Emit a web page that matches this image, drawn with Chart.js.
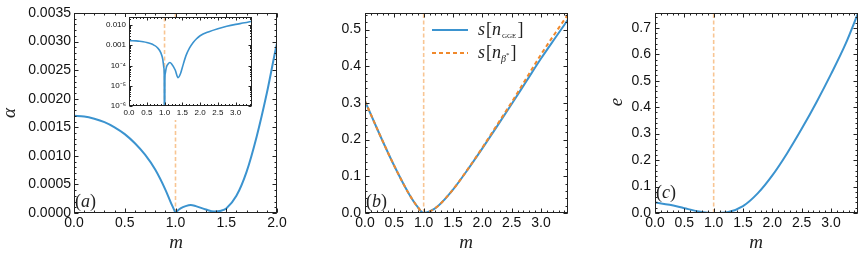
<!DOCTYPE html>
<html>
<head>
<meta charset="utf-8">
<script src="https://cdn.jsdelivr.net/npm/chart.js@4.4.1/dist/chart.umd.min.js"></script>
<style>
  html, body { margin: 0; padding: 0; background: #fff; }
  #wrap { position: relative; width: 866px; height: 256px; overflow: hidden; }
  canvas { position: absolute; }
</style>
</head>
<body>
<div id="wrap">
  <canvas id="cA" width="290" height="256" style="left:0;top:0"></canvas>
  <canvas id="cB" width="290" height="256" style="left:290px;top:0"></canvas>
  <canvas id="cC" width="286" height="256" style="left:580px;top:0"></canvas>
  <canvas id="cIn" width="154" height="104" style="left:104px;top:16px"></canvas>
</div>
<script>
// --- dados ---
// (a) alpha(m) — mesma curva no painel principal e no inset (escala log)
// em m = 1 alpha cai a ~0 (valor minusculo p/ a escala log nao descartar o ponto)
const mAlpha = [0, 0.1, 0.2, 0.3, 0.4, 0.5, 0.6, 0.7, 0.8, 0.9, 0.95, 0.98, 0.99, 1.0, 1.01, 1.02, 1.05, 1.1, 1.15, 1.2, 1.3, 1.38, 1.45, 1.5, 1.6, 1.7, 1.8, 1.9, 2.0, 2.25, 2.5, 2.75, 3.0, 3.25, 3.46];
const alphaVals = [0.00170, 0.00169, 0.00165, 0.00159, 0.00150, 0.00138, 0.00122, 0.00102, 0.00076, 0.00041, 0.00020, 0.00008, 0.00004, 1e-9, 0.00002, 0.00004, 0.00008, 0.00012, 0.00014, 0.00012, 0.00006, 0.000025, 0.00004, 0.00008, 0.00030, 0.00072, 0.00134, 0.00210, 0.00297, 0.0047, 0.0066, 0.0087, 0.0108, 0.0129, 0.0155];

// (b) entropias
const mS = [0, 0.25, 0.5, 0.75, 0.9, 1.0, 1.1, 1.25, 1.5, 1.75, 2.0, 2.25, 2.5, 2.75, 3.0, 3.25, 3.46];
const sGGE  = [0.305, 0.214, 0.128, 0.052, 0.016, 0, 0.004, 0.020, 0.064, 0.118, 0.176, 0.236, 0.297, 0.359, 0.421, 0.479, 0.527];
const sBeta = [0.305, 0.214, 0.128, 0.052, 0.016, 0, 0.004, 0.020, 0.064, 0.119, 0.178, 0.240, 0.302, 0.367, 0.432, 0.492, 0.541];

// (c) e(m)
const mE = [0, 0.25, 0.5, 0.75, 1.0, 1.25, 1.5, 1.75, 2.0, 2.25, 2.5, 2.75, 3.0, 3.25, 3.46];
const eVals = [0.040, 0.031, 0.018, 0.006, 0.0, 0.004, 0.026, 0.074, 0.142, 0.225, 0.318, 0.418, 0.525, 0.640, 0.755];

// linha tracejada vertical em m = 1
const mCrit = 1;

// ticks
const ticksXa = [0, 0.5, 1, 1.5, 2];
const ticksYa = [0, 0.0005, 0.001, 0.0015, 0.002, 0.0025, 0.003, 0.0035];
const ticksXbc = [0, 0.5, 1, 1.5, 2, 2.5, 3];
const ticksYb = [0, 0.1, 0.2, 0.3, 0.4, 0.5];
const ticksYc = [0, 0.1, 0.2, 0.3, 0.4, 0.5, 0.6, 0.7];
const ticksXin = [0, 0.5, 1, 1.5, 2, 2.5, 3];
const ticksYin = [1e-6, 1e-5, 1e-4, 1e-3, 1e-2];
const labelsYin = ['10⁻⁶', '10⁻⁵', '10⁻⁴', '0.001', '0.010'];

const BLUE = '#3b93cf';
const ORANGE = '#f0892c';
const VLINE = '#f8c593';
const SANS = '"Liberation Sans", Arial, sans-serif';
const SERIF = '"Liberation Serif", "Times New Roman", serif';

const pts = (xs, ys) => xs.map((x, i) => ({ x, y: ys[i] }));

// --- moldura estilo Mathematica, ticks para dentro nos 4 lados ---
function minorVals(scale, major, sub) {
  const out = [];
  if (scale.type === 'logarithmic') {
    for (let e = Math.floor(Math.log10(scale.min)); e <= Math.ceil(Math.log10(scale.max)); e++) {
      for (let k = 2; k <= 9; k++) {
        const v = k * Math.pow(10, e);
        if (v > scale.min && v < scale.max) out.push(v);
      }
    }
    return out;
  }
  const step = (major[1] - major[0]) / sub;
  for (let v = major[0]; v <= scale.max + 1e-12; v += step) out.push(v);
  return out;
}

const framePlugin = {
  id: 'frame',
  afterDatasetsDraw(chart, args, o) {
    const { ctx, chartArea: a, scales: { x, y } } = chart;
    const L = Math.round(a.left) + 0.5, R = Math.round(a.right) - 0.5;
    const T = Math.round(a.top) + 0.5, B = Math.round(a.bottom) - 0.5;
    ctx.save();
    ctx.strokeStyle = '#222';
    ctx.lineWidth = 1;
    const xMaj = x.ticks.map(t => t.value), yMaj = y.ticks.map(t => t.value);
    const draw = (vals, len, horiz) => {
      vals.forEach(v => {
        if (horiz) {
          const px = Math.round(x.getPixelForValue(v)) + 0.5;
          if (px < L - 1 || px > R + 1) return;
          ctx.beginPath();
          ctx.moveTo(px, B); ctx.lineTo(px, B - len);
          ctx.moveTo(px, T); ctx.lineTo(px, T + len);
          ctx.stroke();
        } else {
          const py = Math.round(y.getPixelForValue(v)) + 0.5;
          if (py < T - 1 || py > B + 1) return;
          ctx.beginPath();
          ctx.moveTo(L, py); ctx.lineTo(L + len, py);
          ctx.moveTo(R, py); ctx.lineTo(R - len, py);
          ctx.stroke();
        }
      });
    };
    draw(minorVals(x, xMaj, 5), o.minor, true);
    draw(minorVals(y, yMaj, 5), o.minor, false);
    draw(xMaj, o.major, true);
    draw(yMaj, o.major, false);
    ctx.strokeRect(L, T, R - L, B - T);
    ctx.restore();
  }
};

// texto com partes (italico, subscrito...)
function rich(ctx, x, y, parts) {
  parts.forEach(p => {
    ctx.font = p.f;
    ctx.fillText(p.t, x, y + (p.dy || 0));
    x += ctx.measureText(p.t).width + (p.sp || 0);
  });
}

function textPlugin(draw) {
  return {
    id: 'txt',
    afterDraw(chart) {
      const ctx = chart.ctx;
      ctx.save();
      ctx.fillStyle = '#222';
      ctx.textBaseline = 'alphabetic';
      draw(ctx, chart);
      ctx.restore();
    }
  };
}

function axis(type, min, max, ticksArr, fmt, size, pad, fs) {
  return {
    type, min, max,
    grid: { display: false, drawTicks: false },
    border: { display: false },
    ticks: { font: { family: SANS, size: fs }, color: '#111', padding: pad, maxRotation: 0, autoSkip: false, callback: fmt },
    afterBuildTicks: s => { s.ticks = ticksArr.map(v => ({ value: v })); },
    afterFit: s => {
      if (s.isHorizontal()) s.height = size; else s.width = size;
      s.paddingLeft = s.paddingRight = s.paddingTop = s.paddingBottom = 0;
    }
  };
}

function baseOpts(pad, scales, frame) {
  return {
    responsive: false, animation: false, devicePixelRatio: 1, events: [],
    layout: { padding: pad },
    plugins: { legend: { display: false }, tooltip: { enabled: false }, frame },
    elements: { point: { radius: 0 }, line: { cubicInterpolationMode: 'monotone' } },
    scales
  };
}

const vline = (ymin, ymax) => ({
  data: [{ x: mCrit, y: ymin }, { x: mCrit, y: ymax }],
  borderColor: VLINE, borderWidth: 1.6, borderDash: [4, 2.5], cubicInterpolationMode: 'default', tension: 0
});

const f1 = v => Number(v).toFixed(1);

// (a)
new Chart(document.getElementById('cA'), {
  type: 'line',
  data: { datasets: [
    { data: pts(mAlpha, alphaVals), borderColor: BLUE, borderWidth: 2 },
    vline(0, 0.0035)
  ] },
  options: baseOpts({ top: 13, right: 13, left: 0, bottom: 0 }, {
    x: axis('linear', 0, 2, ticksXa, f1, 43, 2, 14),
    y: axis('linear', 0, 0.0035, ticksYa, v => Number(v).toFixed(4), 74, 3, 14)
  }, { major: 4, minor: 2 }),
  plugins: [framePlugin, textPlugin(ctx => {
    ctx.font = 'italic 19px ' + SERIF;
    ctx.textAlign = 'center';
    ctx.fillText('m', 176, 248);
    ctx.save();
    ctx.translate(15, 113);
    ctx.rotate(-Math.PI / 2);
    ctx.fillText('α', 0, 0);
    ctx.restore();
    ctx.textAlign = 'left';
    rich(ctx, 75, 207, [{ t: '(', f: '18px ' + SERIF }, { t: 'a', f: 'italic 18px ' + SERIF }, { t: ')', f: '18px ' + SERIF }]);
  })]
});

// inset de (a): escala log
new Chart(document.getElementById('cIn'), {
  type: 'line',
  data: { datasets: [
    { data: pts(mAlpha, alphaVals), borderColor: BLUE, borderWidth: 1.6 },
    vline(1e-6, 0.025)
  ] },
  options: baseOpts({ top: 1, right: 6, left: 0, bottom: 0 }, {
    x: axis('linear', 0, 3.46, ticksXin, f1, 14, 2, 8),
    y: axis('logarithmic', 1e-6, 0.025, ticksYin, (v, i) => labelsYin[i], 25, 3, 8)
  }, { major: 3, minor: 1.5 }),
  plugins: [{
    id: 'bg',
    beforeDraw(chart) {
      const c = chart.ctx;
      c.save(); c.fillStyle = '#fff'; c.fillRect(0, 1, chart.width, chart.height - 1); c.restore();
    }
  }, framePlugin]
});

// (b)
new Chart(document.getElementById('cB'), {
  type: 'line',
  data: { datasets: [
    { data: pts(mS, sBeta), borderColor: ORANGE, borderWidth: 2, borderDash: [4, 3] },
    { data: pts(mS, sGGE), borderColor: BLUE, borderWidth: 2 },
    vline(0, 0.545)
  ] },
  options: baseOpts({ top: 13, right: 12, left: 0, bottom: 0 }, {
    x: axis('linear', 0, 3.46, ticksXbc, f1, 43, 2, 14),
    y: axis('linear', 0, 0.545, ticksYb, f1, 75, 4, 14)
  }, { major: 4, minor: 2 }),
  plugins: [framePlugin, textPlugin(ctx => {
    ctx.font = 'italic 19px ' + SERIF;
    ctx.textAlign = 'center';
    ctx.fillText('m', 176, 248);
    ctx.textAlign = 'left';
    rich(ctx, 76, 207, [{ t: '(', f: '18px ' + SERIF }, { t: 'b', f: 'italic 18px ' + SERIF }, { t: ')', f: '18px ' + SERIF }]);
    // legenda
    ctx.lineWidth = 2;
    ctx.strokeStyle = BLUE;
    ctx.beginPath(); ctx.moveTo(142, 30); ctx.lineTo(178, 30); ctx.stroke();
    ctx.strokeStyle = ORANGE;
    ctx.setLineDash([4, 3]);
    ctx.beginPath(); ctx.moveTo(142, 53); ctx.lineTo(178, 53); ctx.stroke();
    ctx.setLineDash([]);
    const it = 'italic 18px ' + SERIF, up = '18px ' + SERIF;
    rich(ctx, 188, 35, [{ t: 's', f: it, sp: 1 }, { t: '[', f: up }, { t: 'n', f: it, sp: 1 },
      { t: 'GGE', f: '7px ' + SERIF, dy: 3, sp: 1 }, { t: ']', f: up }]);
    rich(ctx, 188, 58, [{ t: 's', f: it, sp: 1 }, { t: '[', f: up }, { t: 'n', f: it },
      { t: 'β', f: 'italic 10px ' + SERIF, dy: 4 }, { t: '*', f: '7px ' + SERIF, dy: -1, sp: 1 }, { t: ']', f: up }]);
  })]
});

// (c)
new Chart(document.getElementById('cC'), {
  type: 'line',
  data: { datasets: [
    { data: pts(mE, eVals), borderColor: BLUE, borderWidth: 2 },
    vline(0, 0.756)
  ] },
  options: baseOpts({ top: 13, right: 8, left: 0, bottom: 0 }, {
    x: axis('linear', 0, 3.46, ticksXbc, f1, 43, 2, 14),
    y: axis('linear', 0, 0.756, ticksYc, f1, 75, 4, 14)
  }, { major: 4, minor: 2 }),
  plugins: [framePlugin, textPlugin(ctx => {
    ctx.font = 'italic 19px ' + SERIF;
    ctx.textAlign = 'center';
    ctx.fillText('m', 176, 248);
    ctx.save();
    ctx.translate(42, 102);
    ctx.rotate(-Math.PI / 2);
    ctx.fillText('e', 0, 0);
    ctx.restore();
    ctx.textAlign = 'left';
    rich(ctx, 76, 198, [{ t: '(', f: '18px ' + SERIF }, { t: 'c', f: 'italic 18px ' + SERIF }, { t: ')', f: '18px ' + SERIF }]);
  })]
});
</script>
</body>
</html>
